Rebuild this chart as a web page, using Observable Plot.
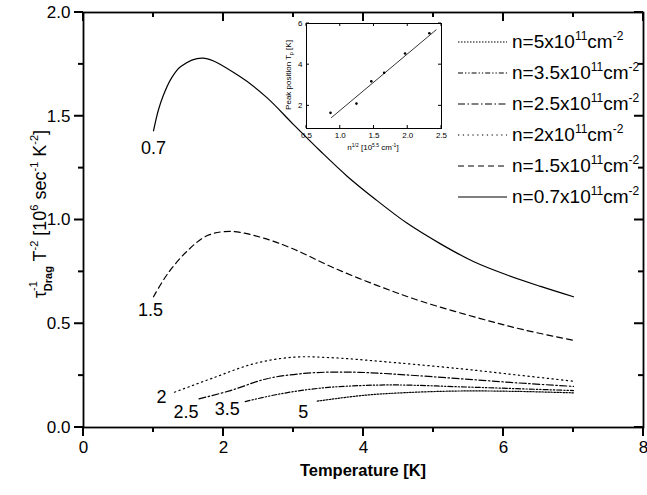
<!DOCTYPE html>
<html>
<head>
<meta charset="utf-8">
<script src="https://cdn.jsdelivr.net/npm/d3@7"></script>
<script src="https://cdn.jsdelivr.net/npm/@observablehq/plot@0.6"></script>
<style>
  html, body { margin: 0; padding: 0; background: white; }
  #chart { position: relative; width: 647px; height: 495px; }
  #chart svg { position: absolute; }
</style>
</head>
<body>
<div id="chart"></div>
<script>
// ---- Main chart data (Temperature [K] vs tau^-1 T^-2) ----
const T_07 = [1.0, 1.07, 1.14, 1.25, 1.39, 1.71, 2.24, 2.62, 3.0, 3.39, 3.77, 4.15, 4.62, 5.1, 5.57, 6.05, 6.53, 7.0];
const V_07 = [1.43, 1.53, 1.60, 1.68, 1.74, 1.78, 1.69, 1.59, 1.46, 1.33, 1.21, 1.105, 0.985, 0.885, 0.80, 0.735, 0.68, 0.63];

const T_15 = [1.0, 1.2, 1.48, 1.77, 2.1, 2.53, 3.0, 3.57, 4.2, 4.81, 5.67, 6.3, 7.0];
const V_15 = [0.63, 0.74, 0.85, 0.925, 0.945, 0.917, 0.86, 0.77, 0.684, 0.61, 0.525, 0.47, 0.42];

const T_2 = [1.3, 1.86, 2.43, 3.0, 3.57, 4.2, 5.39, 6.2, 7.0];
const V_2 = [0.17, 0.24, 0.307, 0.339, 0.336, 0.32, 0.283, 0.253, 0.223];

const T_25 = [1.65, 2.1, 2.62, 3.2, 3.77, 4.2, 5.39, 6.2, 7.0];
const V_25 = [0.138, 0.178, 0.235, 0.262, 0.267, 0.262, 0.235, 0.215, 0.198];

const T_35 = [2.31, 2.81, 3.39, 3.96, 4.5, 5.39, 6.2, 7.0];
const V_35 = [0.125, 0.162, 0.19, 0.202, 0.205, 0.196, 0.187, 0.178];

const T_5 = [3.34, 4.0, 4.6, 5.39, 6.2, 7.0];
const V_5 = [0.127, 0.155, 0.168, 0.176, 0.174, 0.167];

const curveLabels = ["0.7", "1.5", "2", "2.5", "3.5", "5"];
const legendDensities = ["5", "3.5", "2.5", "2", "1.5", "0.7"];

const xTicksMajor = [0, 2, 4, 6, 8];
const xTicksMinor = [1, 3, 5, 7];
const yTicksMajor = [0, 0.5, 1.0, 1.5, 2.0];
const yTicksMinor = [0.25, 0.75, 1.25, 1.75];

// ---- Inset data (peak position vs n^1/2) ----
const insetN = [0.856, 1.24, 1.46, 1.65, 1.96, 2.32];
const insetTp = [1.66, 2.11, 3.19, 3.61, 4.54, 5.53];
const fitN = [0.87, 2.42];
const fitTp = [1.43, 5.69];
const insetXTicks = [0.5, 1.0, 1.5, 2.0, 2.5];
const insetYTicks = [2, 4, 6];

// ---- styles (not data) ----
const styles = {
  "0.7": {dash: null, dx: 0, dy: 17},
  "1.5": {dash: "6,4", dx: -3, dy: 13},
  "2":   {dash: "1.3,3.5", dx: -13, dy: 5},
  "2.5": {dash: "7,2.5,1.5,2.5", dx: -13, dy: 13},
  "3.5": {dash: "5,2,1.3,2,1.3,2", dx: -18, dy: 8},
  "5":   {dash: "1.5,1.5", dx: -14, dy: 11}
};

const series = [
  {key: "0.7", T: T_07, V: V_07},
  {key: "1.5", T: T_15, V: V_15},
  {key: "2", T: T_2, V: V_2},
  {key: "2.5", T: T_25, V: V_25},
  {key: "3.5", T: T_35, V: V_35},
  {key: "5", T: T_5, V: V_5}
];

const font = "'Liberation Sans', Arial, Helvetica, sans-serif";

// Frame ticks, positioned by the Plot chart's own scales
function drawFrameTicks(plotSvg, xMaj, xMin, yMaj, yMin, big, small, outward, sw) {
  const sx = plotSvg.scale("x"), sy = plotSvg.scale("y");
  const [x0, x1] = sx.range, [y0, y1] = sy.range; // y0 bottom, y1 top
  const g = d3.select(plotSvg).append("g").attr("stroke", "black").attr("stroke-width", sw);
  [[xMaj, big], [xMin, small]].forEach(([tk, L]) => {
    tk.forEach(v => {
      const x = sx.apply(v);
      g.append("line").attr("x1", x).attr("x2", x).attr("y1", y0).attr("y2", outward ? y0 + L : y0 - L);
      g.append("line").attr("x1", x).attr("x2", x).attr("y1", y1).attr("y2", y1 + L);
    });
  });
  [[yMaj, big], [yMin, small]].forEach(([tk, L]) => {
    tk.forEach(v => {
      const y = sy.apply(v);
      g.append("line").attr("y1", y).attr("y2", y).attr("x1", x0).attr("x2", outward ? x0 - L : x0 + L);
      g.append("line").attr("y1", y).attr("y2", y).attr("x1", x1).attr("x2", x1 - L);
    });
  });
}

const lineMarks = series.map(s => Plot.line(s.T.map((t, i) => ({t, v: s.V[i]})), {
  x: "t", y: "v", curve: "catmull-rom", stroke: "black", strokeWidth: 1.2,
  strokeDasharray: styles[s.key].dash
}));
const labelMarks = series.map((s, i) => Plot.text([{t: s.T[0], v: s.V[0], label: curveLabels[i]}], {
  x: "t", y: "v", text: "label", dx: styles[s.key].dx, dy: styles[s.key].dy,
  fontSize: 18, fill: "black"
}));

const main = Plot.plot({
  width: 647, height: 495,
  marginLeft: 83, marginRight: 4, marginTop: 12, marginBottom: 68,
  x: {domain: [0, 8]},
  y: {domain: [0, 2]},
  style: {fontFamily: font, fontSize: "17px", color: "black", background: "white", overflow: "visible"},
  marks: [
    Plot.axisX({ticks: xTicksMajor, tickSize: 0, tickPadding: 13, fontSize: 17, label: null, tickFormat: d => d}),
    Plot.axisY({ticks: yTicksMajor, tickSize: 0, tickPadding: 13, fontSize: 17, label: null, tickFormat: d3.format(".1f")}),
    Plot.frame({stroke: "black", strokeWidth: 1.8}),
    ...lineMarks,
    ...labelMarks
  ]
});
main.style.left = "0px";
main.style.top = "0px";
document.getElementById("chart").appendChild(main);
drawFrameTicks(main, xTicksMajor, xTicksMinor, yTicksMajor, yTicksMinor, 9, 5, true, 2);

const svg = d3.select(main);

// x axis title
svg.append("text")
  .attr("x", 363).attr("y", 476)
  .attr("text-anchor", "middle")
  .attr("font-family", font).attr("font-size", 16.5).attr("font-weight", "bold")
  .attr("fill", "black")
  .text("Temperature [K]");

// y axis title with super/subscripts
const yl = svg.append("text")
  .attr("transform", "translate(46,214) rotate(-90)")
  .attr("text-anchor", "middle")
  .attr("font-family", font).attr("font-size", 18).attr("fill", "black");
yl.append("tspan").text("τ");
yl.append("tspan").attr("font-size", 11).attr("dy", -9).text("-1");
yl.append("tspan").attr("font-size", 11).attr("dx", -10).attr("dy", 15).attr("font-weight", "bold").text("Drag");
yl.append("tspan").attr("dy", -6).text(" T");
yl.append("tspan").attr("font-size", 11).attr("dy", -8).text("-2");
yl.append("tspan").attr("dy", 8).text(" [10");
yl.append("tspan").attr("font-size", 11).attr("dy", -8).text("6");
yl.append("tspan").attr("dy", 8).text(" sec");
yl.append("tspan").attr("font-size", 11).attr("dy", -8).text("-1");
yl.append("tspan").attr("dy", 8).text(" K");
yl.append("tspan").attr("font-size", 11).attr("dy", -8).text("-2");
yl.append("tspan").attr("dy", 8).text("]");

// legend
const lg = svg.append("g").attr("font-family", font).attr("fill", "black").attr("text-anchor", "start");
legendDensities.forEach((d, i) => {
  const y = 42 + i * 31;
  lg.append("line")
    .attr("x1", 458).attr("x2", 507).attr("y1", y).attr("y2", y)
    .attr("stroke", "black").attr("stroke-width", 1.2)
    .attr("stroke-dasharray", styles[d].dash);
  const t = lg.append("text").attr("x", 512).attr("y", y + 6).attr("font-size", 19).attr("text-anchor", "start");
  t.append("tspan").text(`n=${d}x10`);
  t.append("tspan").attr("font-size", 12).attr("dy", -8).text("11");
  t.append("tspan").attr("dy", 8).text("cm");
  t.append("tspan").attr("font-size", 12).attr("dy", -8).text("-2");
});

// ---- Inset ----
const inset = Plot.plot({
  width: 175, height: 138,
  marginLeft: 36, marginRight: 4, marginTop: 8, marginBottom: 25,
  x: {domain: [0.5, 2.5]},
  y: {domain: [0.9, 6]},
  style: {fontFamily: font, fontSize: "8px", color: "black", background: "transparent", overflow: "visible"},
  marks: [
    Plot.axisX({ticks: insetXTicks, tickSize: 0, tickPadding: 4, fontSize: 8, label: null, tickFormat: d3.format(".1f")}),
    Plot.axisY({ticks: insetYTicks, tickSize: 0, tickPadding: 4, fontSize: 8, label: null, tickFormat: d => d}),
    Plot.frame({stroke: "black", strokeWidth: 1}),
    Plot.line(fitN.map((n, i) => ({n, tp: fitTp[i]})), {x: "n", y: "tp", stroke: "black", strokeWidth: 0.8}),
    Plot.dot(insetN.map((n, i) => ({n, tp: insetTp[i]})), {x: "n", y: "tp", r: 1.3, fill: "black", stroke: "none"})
  ]
});
inset.style.left = "270px";
inset.style.top = "15px";
document.getElementById("chart").appendChild(inset);
drawFrameTicks(inset, insetXTicks, [], insetYTicks, [], 3, 2, false, 1);

const isvg = d3.select(inset);
const ixl = isvg.append("text")
  .attr("x", 103).attr("y", 135)
  .attr("text-anchor", "middle")
  .attr("font-family", font).attr("font-size", 8).attr("fill", "black");
ixl.append("tspan").text("n");
ixl.append("tspan").attr("font-size", 5).attr("dy", -3).text("1/2");
ixl.append("tspan").attr("dy", 3).text(" [10");
ixl.append("tspan").attr("font-size", 5).attr("dy", -3).text("5.5");
ixl.append("tspan").attr("dy", 3).text(" cm");
ixl.append("tspan").attr("font-size", 5).attr("dy", -3).text("-1");
ixl.append("tspan").attr("dy", 3).text("]");

const iyl = isvg.append("text")
  .attr("transform", "translate(21,60) rotate(-90)")
  .attr("text-anchor", "middle")
  .attr("font-family", font).attr("font-size", 8).attr("fill", "black");
iyl.append("tspan").text("Peak position T");
iyl.append("tspan").attr("font-size", 5).attr("dy", 2).text("p");
iyl.append("tspan").attr("dy", -2).text(" [K]");
</script>
</body>
</html>
